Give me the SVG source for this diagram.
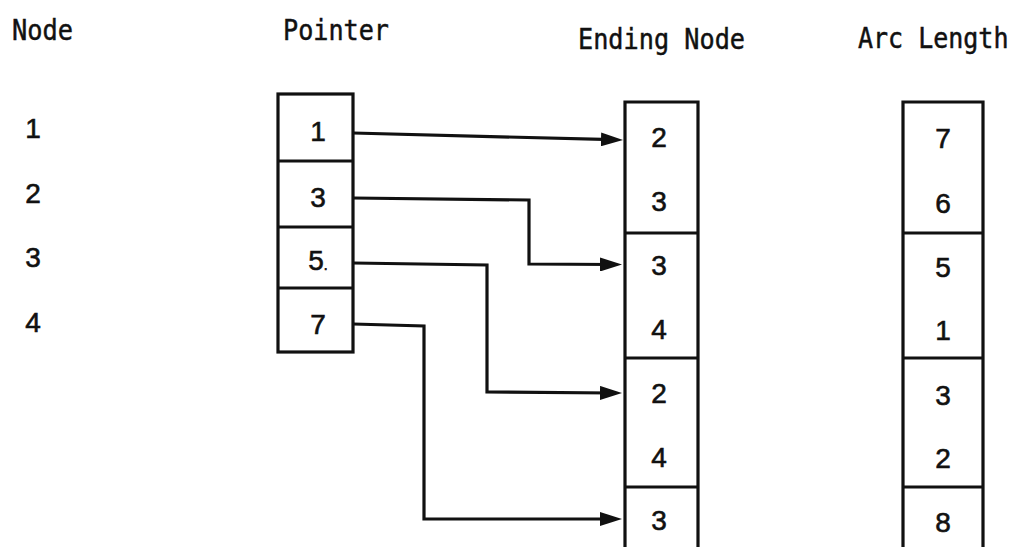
<svg xmlns="http://www.w3.org/2000/svg" width="1022" height="547" viewBox="0 0 1022 547">
  <style>
    .hdr { font-family: "DejaVu Sans Mono", "Liberation Mono", monospace; font-size: 29px; fill: #111; stroke: #111; stroke-width: 0.5; }
    .hdr-s { font-family: "DejaVu Sans Mono", "Liberation Mono", monospace; font-size: 25px; fill: #111; stroke: #111; stroke-width: 0.45; }
    .num { font-family: "Liberation Sans", Arial, sans-serif; font-size: 28px; fill: #111; stroke: #111; stroke-width: 0.6; text-anchor: middle; }
    .box { fill: none; stroke: #111; stroke-width: 3.2; }
    .div { stroke: #111; stroke-width: 3.2; }
    .conn { fill: none; stroke: #111; stroke-width: 3.2; marker-end: url(#arrow); }
  </style>
  <defs>
    <marker id="arrow" markerUnits="userSpaceOnUse" viewBox="0 0 22 14" refX="12" refY="7" markerWidth="22" markerHeight="14" orient="auto">
      <path d="M0,0 L22,7 L0,14 Z" fill="#111"/>
    </marker>
  </defs>
  <rect width="1022" height="547" fill="#fff"/>

  <g id="headers">
    <text class="hdr" x="12" y="40" textLength="61" lengthAdjust="spacingAndGlyphs">Node</text>
    <text class="hdr" x="283" y="40" textLength="106" lengthAdjust="spacingAndGlyphs">Pointer</text>
    <text class="hdr" x="578" y="49" textLength="167" lengthAdjust="spacingAndGlyphs">Ending Node</text>
    <text class="hdr-s" transform="translate(858,48) scale(1,1.16)" x="0" y="0">Arc Length</text>
  </g>

  <g id="node-column">
    <text class="num" x="33" y="138">1</text>
    <text class="num" x="33" y="203">2</text>
    <text class="num" x="33" y="267">3</text>
    <text class="num" x="33" y="332">4</text>
  </g>

  <g id="pointer-array">
    <rect class="box" x="278" y="94" width="75" height="258"/>
    <line class="div" x1="278" y1="161" x2="353" y2="161"/>
    <line class="div" x1="278" y1="227" x2="353" y2="227"/>
    <line class="div" x1="278" y1="288" x2="353" y2="288"/>
    <text class="num" x="318" y="141">1</text>
    <text class="num" x="318" y="207">3</text>
    <text class="num" x="318" y="270">5<tspan font-size="14">.</tspan></text>
    <text class="num" x="318" y="334">7</text>
  </g>

  <g id="ending-node-array">
    <path class="box" d="M625,547 V102 H698 V547"/>
    <line class="div" x1="625" y1="233" x2="698" y2="233"/>
    <line class="div" x1="625" y1="358" x2="698" y2="358"/>
    <line class="div" x1="625" y1="487" x2="698" y2="487"/>
    <text class="num" x="659" y="147">2</text>
    <text class="num" x="659" y="211">3</text>
    <text class="num" x="659" y="275">3</text>
    <text class="num" x="659" y="339">4</text>
    <text class="num" x="659" y="403">2</text>
    <text class="num" x="659" y="467">4</text>
    <text class="num" x="659" y="530">3</text>
  </g>

  <g id="arc-length-array">
    <path class="box" d="M903,547 V102 H983 V547"/>
    <line class="div" x1="903" y1="233" x2="983" y2="233"/>
    <line class="div" x1="903" y1="358" x2="983" y2="358"/>
    <line class="div" x1="903" y1="487" x2="983" y2="487"/>
    <text class="num" x="943" y="148">7</text>
    <text class="num" x="943" y="213">6</text>
    <text class="num" x="943" y="277">5</text>
    <text class="num" x="943" y="340">1</text>
    <text class="num" x="943" y="405">3</text>
    <text class="num" x="943" y="468">2</text>
    <text class="num" x="943" y="532">8</text>
  </g>

  <g id="connectors">
    <path class="conn" d="M353,133 L613,139.7"/>
    <path class="conn" d="M353,198 L529,200 L529,264 L612,264.5"/>
    <path class="conn" d="M353,263 L487,265 L487,392 L612,393"/>
    <path class="conn" d="M353,324 L424,326 L424,519 L612,519"/>
  </g>
</svg>
